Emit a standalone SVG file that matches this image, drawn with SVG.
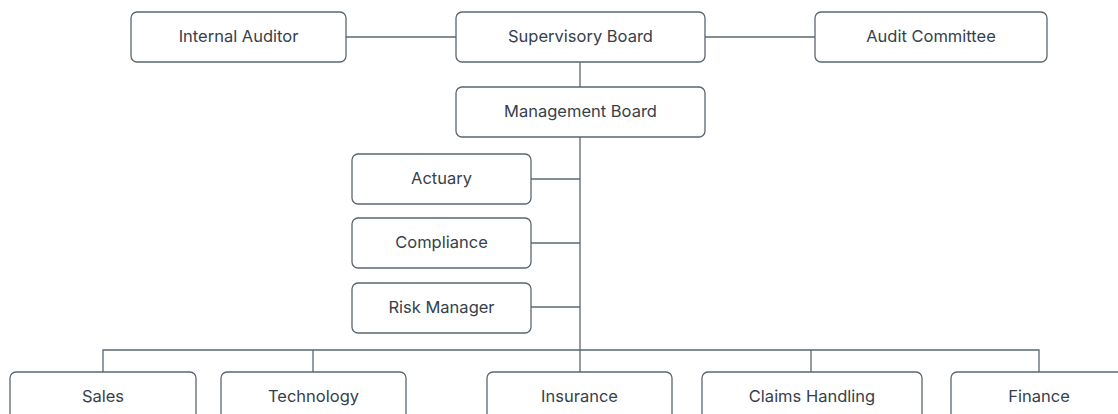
<svg xmlns="http://www.w3.org/2000/svg" width="1118" height="414" viewBox="0 0 1118 414">
  <style>
    .box { fill: #ffffff; stroke: #5b6670; stroke-width: 1.3; }
    .lbl { font-family: Inter, "Noto Sans", sans-serif; font-size: 16.5px; fill: #36414b; text-anchor: middle; }
    .wire { fill: none; stroke: #5b6670; stroke-width: 1.3; }
  </style>
  <rect width="1118" height="414" fill="#ffffff"/>

  <!-- connectors -->
  <g id="connectors" class="wire">
    <line x1="346" y1="37" x2="456" y2="37"/>
    <line x1="705" y1="37" x2="815" y2="37"/>
    <line x1="580" y1="62" x2="580" y2="87"/>
    <line x1="580" y1="137" x2="580" y2="372"/>
    <line x1="531" y1="179" x2="580" y2="179"/>
    <line x1="531" y1="243" x2="580" y2="243"/>
    <line x1="531" y1="307" x2="580" y2="307"/>
    <polyline points="103,372 103,350 1039,350 1039,372"/>
    <line x1="313" y1="350" x2="313" y2="372"/>
    <line x1="811" y1="350" x2="811" y2="372"/>
  </g>

  <!-- top row -->
  <g id="internal-auditor">
    <rect class="box" x="131" y="12" width="215" height="50" rx="6"/>
    <text class="lbl" x="238.5" y="42">Internal Auditor</text>
  </g>
  <g id="supervisory-board">
    <rect class="box" x="456" y="12" width="249" height="50" rx="6"/>
    <text class="lbl" x="580.5" y="42">Supervisory Board</text>
  </g>
  <g id="audit-committee">
    <rect class="box" x="815" y="12" width="232" height="50" rx="6"/>
    <text class="lbl" x="931" y="42">Audit Committee</text>
  </g>
  <g id="management-board">
    <rect class="box" x="456" y="87" width="249" height="50" rx="6"/>
    <text class="lbl" x="580.5" y="117">Management Board</text>
  </g>

  <!-- staff functions -->
  <g id="actuary">
    <rect class="box" x="352" y="154" width="179" height="50" rx="6"/>
    <text class="lbl" x="441.5" y="184">Actuary</text>
  </g>
  <g id="compliance">
    <rect class="box" x="352" y="218" width="179" height="50" rx="6"/>
    <text class="lbl" x="441.5" y="248">Compliance</text>
  </g>
  <g id="risk-manager">
    <rect class="box" x="352" y="283" width="179" height="50" rx="6"/>
    <text class="lbl" x="441.5" y="313">Risk Manager</text>
  </g>

  <!-- departments -->
  <g id="sales">
    <rect class="box" x="10" y="372" width="186" height="50" rx="6"/>
    <text class="lbl" x="103" y="402">Sales</text>
  </g>
  <g id="technology">
    <rect class="box" x="221" y="372" width="185" height="50" rx="6"/>
    <text class="lbl" x="313.5" y="402">Technology</text>
  </g>
  <g id="insurance">
    <rect class="box" x="487" y="372" width="185" height="50" rx="6"/>
    <text class="lbl" x="579.5" y="402">Insurance</text>
  </g>
  <g id="claims-handling">
    <rect class="box" x="702" y="372" width="220" height="50" rx="6"/>
    <text class="lbl" x="812" y="402">Claims Handling</text>
  </g>
  <g id="finance">
    <rect class="box" x="951" y="372" width="176" height="50" rx="6"/>
    <text class="lbl" x="1039" y="402">Finance</text>
  </g>
</svg>
